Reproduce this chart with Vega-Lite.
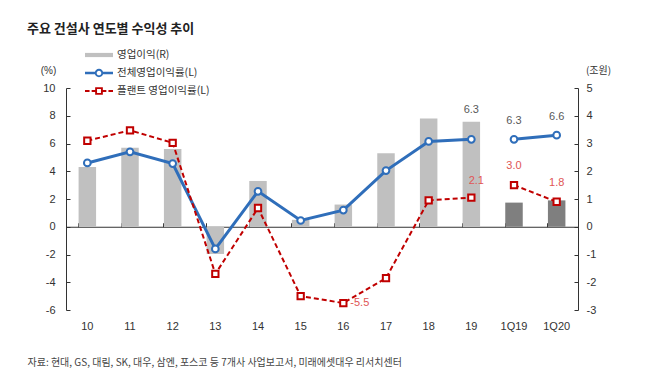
{
  "$schema": "https://vega.github.io/schema/vega-lite/v6.json",
  "width": 512,
  "height": 222,
  "autosize": "none",
  "padding": {"left": 66, "top": 88, "right": 76, "bottom": 80},
  "config": {
    "view": {"stroke": null},
    "font": "Liberation Sans",
    "locale": {"number": {"decimal": ".", "thousands": ",", "grouping": [3], "currency": ["", ""], "minus": "-"}},
    "axisLeft": {"labelOverlap": false, "labelFontSize": 11, "labelColor": "#333333", "domainColor": "#333333", "tickColor": "#333333", "tickSize": -4, "labelPadding": 15, "grid": false},
    "axisRight": {"labelOverlap": false, "labelFontSize": 11, "labelColor": "#333333", "domainColor": "#333333", "tickColor": "#333333", "tickSize": -4, "labelPadding": 12, "grid": false}
  },
  "title": {
    "text": "주요 건설사 연도별 수익성 추이",
    "anchor": "start",
    "frame": "group",
    "dx": -39,
    "offset": 12,
    "font": "Noto Sans CJK KR",
    "fontSize": 13,
    "fontWeight": "bold",
    "color": "#222222"
  },
  "data": {
    "values": [
      {"cat": "10", "period": "annual", "profit": 2.15, "total": 4.6, "plant": 6.2},
      {"cat": "11", "period": "annual", "profit": 2.85, "total": 5.4, "plant": 6.95},
      {"cat": "12", "period": "annual", "profit": 2.8, "total": 4.55, "plant": 6.05},
      {"cat": "13", "period": "annual", "profit": -0.98, "total": -1.6, "plant": -3.4},
      {"cat": "14", "period": "annual", "profit": 1.65, "total": 2.55, "plant": 1.35},
      {"cat": "15", "period": "annual", "profit": 0.25, "total": 0.45, "plant": -5.0},
      {"cat": "16", "period": "annual", "profit": 0.8, "total": 1.2, "plant": -5.5},
      {"cat": "17", "period": "annual", "profit": 2.65, "total": 4.05, "plant": -3.7},
      {"cat": "18", "period": "annual", "profit": 3.9, "total": 6.15, "plant": 1.9},
      {"cat": "19", "period": "annual", "profit": 3.78, "total": 6.3, "plant": 2.1},
      {"cat": "1Q19", "period": "quarter", "profit": 0.87, "total": 6.3, "plant": 3.0},
      {"cat": "1Q20", "period": "quarter", "profit": 0.95, "total": 6.6, "plant": 1.8}
    ]
  },
  "resolve": {"scale": {"y": "independent"}, "axis": {"x": "independent"}},
  "layer": [
    {
      "encoding": {
        "x": {
          "field": "cat", "type": "ordinal", "sort": null,
          "scale": {"paddingInner": 0.59, "paddingOuter": 0.295},
          "axis": {
            "orient": "bottom", "offset": -83.25, "labels": false, "title": null,
            "domainColor": "#333333", "tickColor": "#333333", "bandPosition": 0,
            "tickExtra": true, "tickSize": -4, "domainWidth": 1
          }
        },
        "y": {
          "field": "profit", "type": "quantitative",
          "scale": {"domain": [-3, 5], "nice": false, "zero": false},
          "axis": {
            "orient": "right", "values": [-3, -2, -1, 0, 1, 2, 3, 4, 5],
            "title": "(조원)", "titleAngle": 0, "titleX": 20, "titleY": -18, "titleAlign": "center",
            "titleBaseline": "middle", "titleFont": "Noto Sans CJK KR", "titleFontSize": 10,
            "titleFontWeight": "normal", "titleColor": "#333333"
          }
        }
      },
      "layer": [
        {
          "transform": [{"filter": "datum.period == 'annual'"}],
          "mark": {"type": "bar"},
          "encoding": {
            "color": {
              "datum": "영업이익(R)", "type": "nominal",
              "scale": {
                "domain": ["영업이익(R)", "전체영업이익률(L)", "플랜트 영업이익률(L)"],
                "range": ["#c0c0c0", "#2f6eba", "#c00000"]
              },
              "legend": {
                "orient": "none", "legendX": 19, "legendY": -40, "title": null,
                "symbolSize": 196, "labelOffset": 18, "rowPadding": 5, "symbolStrokeWidth": 0,
                "labelFont": "Noto Sans CJK KR", "labelFontSize": 10.5, "labelColor": "#333333",
                "encode": {
                  "symbols": {
                    "update": {
                      "shape": {"signal": "datum.value == '영업이익(R)' ? 'M-1,-0.3H3V0.3H-1Z' : datum.value == '전체영업이익률(L)' ? 'M-1,-0.18H0.42V0.18H-1Z M1.58,-0.18H3V0.18H1.58Z M0.4,0A0.6,0.6 0 1,1 1.6,0A0.6,0.6 0 1,1 0.4,0Z M0.67,0A0.33,0.33 0 1,0 1.33,0A0.33,0.33 0 1,0 0.67,0Z' : 'M-1,-0.15H-0.35V0.15H-1Z M-0.05,-0.15H0.47V0.15H-0.05Z M1.53,-0.15H2.05V0.15H1.53Z M2.35,-0.15H3V0.15H2.35Z M0.45,-0.55H1.55V0.55H0.45Z M0.72,-0.28V0.28H1.28V-0.28Z'"},
                      "strokeWidth": {"value": 0},
                      "fillOpacity": {"value": 1},
                      "opacity": {"value": 1}
                    }
                  }
                }
              }
            }
          }
        },
        {
          "transform": [{"filter": "datum.period == 'quarter'"}],
          "mark": {"type": "bar", "color": "#7f7f7f"}
        }
      ]
    },
    {
      "encoding": {
        "x": {
          "field": "cat", "type": "ordinal", "sort": null,
          "scale": {"paddingInner": 0.59, "paddingOuter": 0.295},
          "axis": {
            "orient": "bottom", "domain": false, "ticks": false, "tickSize": 0, "labelPadding": 10,
            "labelAngle": 0, "labelFontSize": 11, "labelColor": "#333333",
            "title": "자료: 현대, GS, 대림, SK, 대우, 삼엔, 포스코 등 7개사 사업보고서, 미래에셋대우 리서치센터",
            "titleX": -39, "titleY": 52, "titleAlign": "left", "titleAnchor": "start", "titleBaseline": "middle",
            "titleFont": "Noto Sans CJK KR", "titleFontSize": 10, "titleFontWeight": "normal", "titleColor": "#444444"
          }
        },
        "y": {
          "field": "total", "type": "quantitative",
          "scale": {"domain": [-6, 10], "nice": false, "zero": false},
          "axis": {
            "orient": "left", "values": [-6, -4, -2, 0, 2, 4, 6, 8, 10],
            "title": "(%)", "titleAngle": 0, "titleX": -18, "titleY": -18, "titleAlign": "center",
            "titleBaseline": "middle", "titleFontSize": 10, "titleFontWeight": "normal", "titleColor": "#333333"
          }
        }
      },
      "layer": [
        {
          "mark": {"type": "line", "strokeWidth": 3},
          "encoding": {
            "detail": {"field": "period"},
            "color": {"datum": "전체영업이익률(L)", "type": "nominal"}
          }
        },
        {
          "mark": {"type": "line", "strokeWidth": 2, "strokeDash": [5, 3]},
          "encoding": {
            "y": {"field": "plant", "type": "quantitative", "axis": {"orient": "left", "values": [-6, -4, -2, 0, 2, 4, 6, 8, 10], "title": "(%)", "titleAngle": 0, "titleX": -18, "titleY": -18, "titleAlign": "center", "titleBaseline": "middle", "titleFontSize": 10, "titleFontWeight": "normal", "titleColor": "#333333"}},
            "detail": {"field": "period"},
            "color": {"datum": "플랜트 영업이익률(L)", "type": "nominal"}
          }
        },
        {
          "mark": {"type": "point", "shape": "circle", "filled": true, "fill": "#ffffff", "stroke": "#2f6eba", "strokeWidth": 2, "size": 45, "opacity": 1}
        },
        {
          "mark": {"type": "point", "shape": "square", "filled": true, "fill": "#ffffff", "stroke": "#c00000", "strokeWidth": 2, "size": 40, "opacity": 1},
          "encoding": {"y": {"field": "plant", "type": "quantitative", "axis": {"orient": "left", "values": [-6, -4, -2, 0, 2, 4, 6, 8, 10], "title": "(%)", "titleAngle": 0, "titleX": -18, "titleY": -18, "titleAlign": "center", "titleBaseline": "middle", "titleFontSize": 10, "titleFontWeight": "normal", "titleColor": "#333333"}}}
        },
        {
          "transform": [{"filter": "datum.cat == '19'"}],
          "mark": {"type": "text", "dy": -29, "fontSize": 11, "color": "#595959"},
          "encoding": {"text": {"field": "total", "type": "quantitative", "format": ".1f"}}
        },
        {
          "transform": [{"filter": "datum.period == 'quarter'"}],
          "mark": {"type": "text", "dy": -18, "fontSize": 11, "color": "#595959"},
          "encoding": {"text": {"field": "total", "type": "quantitative", "format": ".1f"}}
        },
        {
          "transform": [{"filter": "datum.period == 'quarter'"}],
          "mark": {"type": "text", "dy": -19, "fontSize": 11, "color": "#e05555"},
          "encoding": {"y": {"field": "plant", "type": "quantitative", "axis": {"orient": "left", "values": [-6, -4, -2, 0, 2, 4, 6, 8, 10], "title": "(%)", "titleAngle": 0, "titleX": -18, "titleY": -18, "titleAlign": "center", "titleBaseline": "middle", "titleFontSize": 10, "titleFontWeight": "normal", "titleColor": "#333333"}}, "text": {"field": "plant", "type": "quantitative", "format": ".1f"}}
        },
        {
          "transform": [{"filter": "datum.cat == '19'"}],
          "mark": {"type": "text", "dx": 5, "dy": -17, "fontSize": 11, "color": "#e05555"},
          "encoding": {"y": {"field": "plant", "type": "quantitative", "axis": {"orient": "left", "values": [-6, -4, -2, 0, 2, 4, 6, 8, 10], "title": "(%)", "titleAngle": 0, "titleX": -18, "titleY": -18, "titleAlign": "center", "titleBaseline": "middle", "titleFontSize": 10, "titleFontWeight": "normal", "titleColor": "#333333"}}, "text": {"field": "plant", "type": "quantitative", "format": ".1f"}}
        },
        {
          "transform": [{"filter": "datum.cat == '16'"}],
          "mark": {"type": "text", "dx": 7, "align": "left", "fontSize": 11, "color": "#e05555"},
          "encoding": {"y": {"field": "plant", "type": "quantitative", "axis": {"orient": "left", "values": [-6, -4, -2, 0, 2, 4, 6, 8, 10], "title": "(%)", "titleAngle": 0, "titleX": -18, "titleY": -18, "titleAlign": "center", "titleBaseline": "middle", "titleFontSize": 10, "titleFontWeight": "normal", "titleColor": "#333333"}}, "text": {"field": "plant", "type": "quantitative", "format": ".1f"}}
        }
      ]
    }
  ]
}
